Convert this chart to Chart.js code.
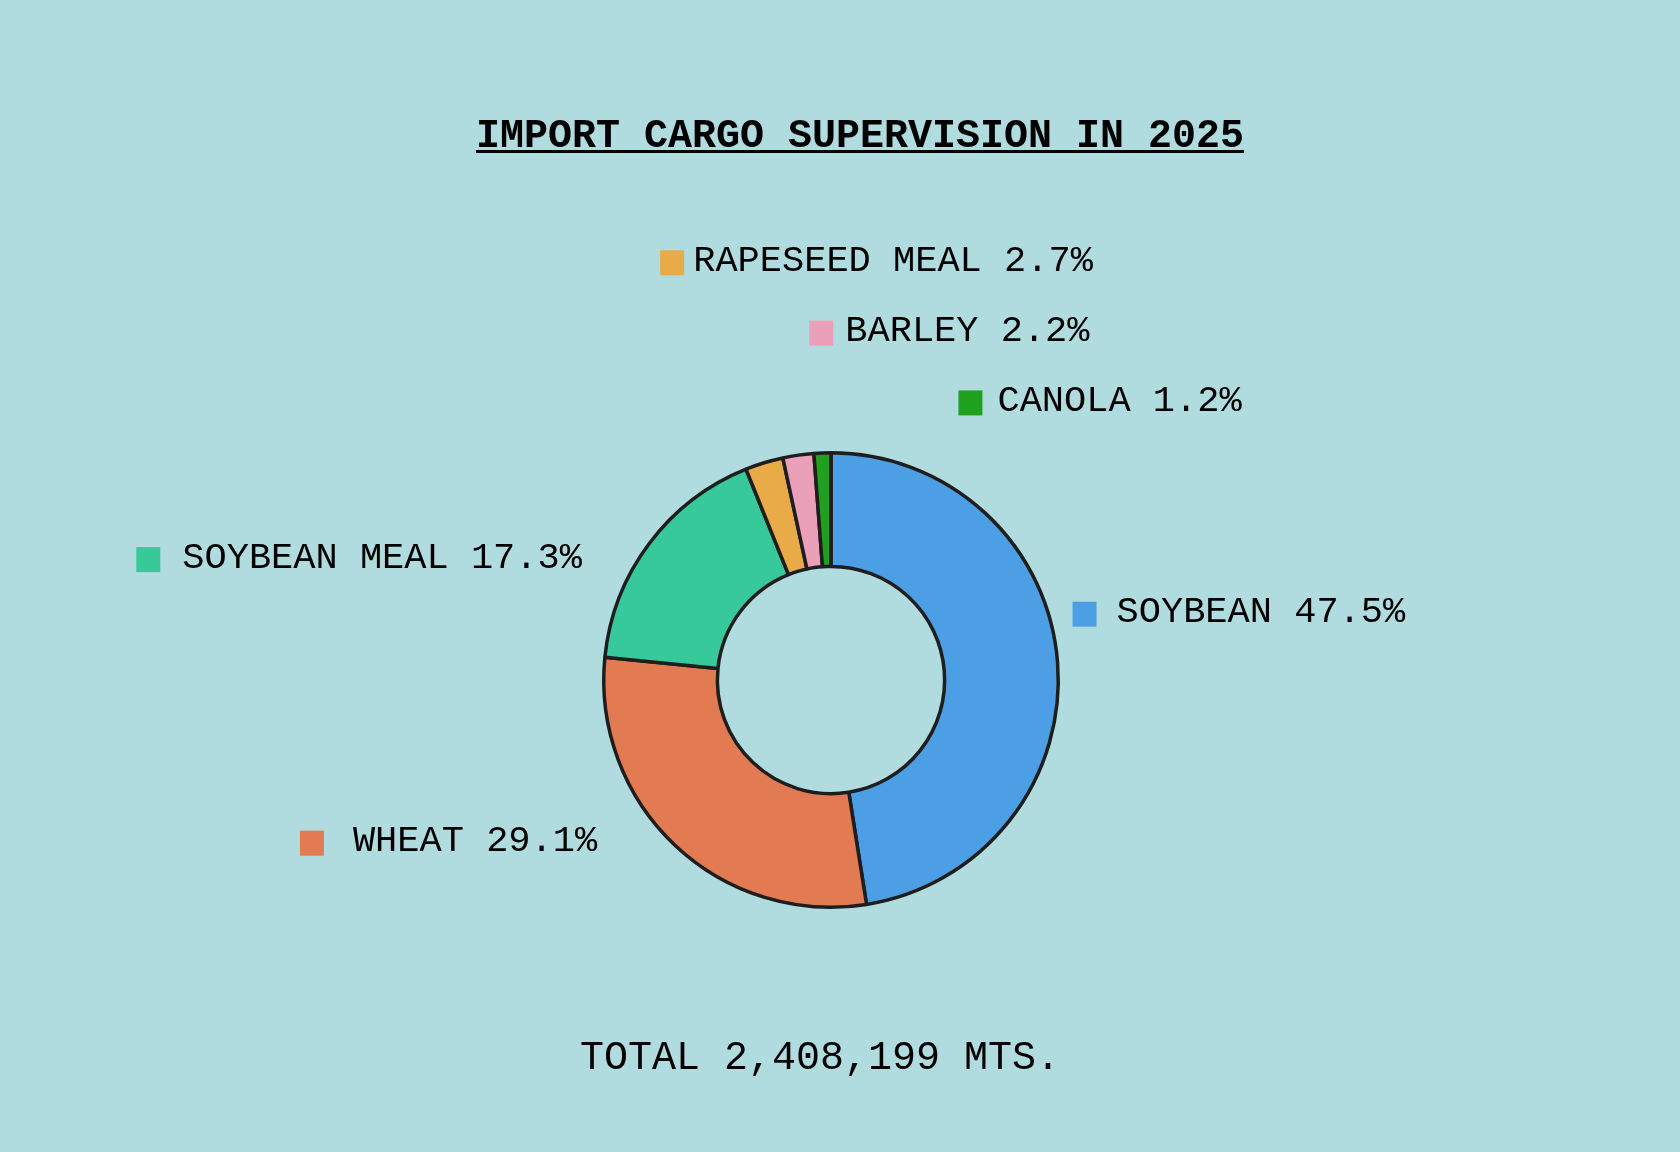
<!DOCTYPE html>
<html>
<head>
<meta charset="utf-8">
<title>Import cargo supervision 2025</title>
<script src="https://cdn.jsdelivr.net/npm/chart.js@4.4.1/dist/chart.umd.min.js"></script>
<style>
  html, body { margin: 0; padding: 0; background: #b0dcdf; }
  #wrap { width: 1680px; height: 1152px; }
</style>
</head>
<body>
<div id="wrap"><canvas id="graficoCarga"></canvas></div>
<script>
const categories = ["SOYBEAN", "WHEAT", "SOYBEAN MEAL", "RAPESEED MEAL", "BARLEY", "CANOLA"];
const shares = [47.5, 29.1, 17.3, 2.7, 2.2, 1.2];
const colors = ["#4c9fe5", "#e27a52", "#38c99a", "#e8ab48", "#eaa0b9", "#1fa01f"];
const titleText = "IMPORT CARGO SUPERVISION IN 2025";
const totalText = "TOTAL 2,408,199 MTS.";

// hand placement of each label box, relative to the outer mid point of its slice
const labelPlace = [
  { dx: 15, dy: -48, gap: 20 },
  { dx: -375, dy: -2, gap: 29 },
  { dx: -513, dy: 16, gap: 22 },
  { dx: -104, dy: -200, gap: 9 },
  { dx: 11, dy: -122, gap: 12 },
  { dx: 136, dy: -50, gap: 15 },
];

const MONO = '"Courier New", Courier, "Liberation Mono", monospace';

const textPlugin = {
  id: "textPlugin",
  afterDraw(chart) {
    const ctx = chart.ctx;
    ctx.save();
    ctx.fillStyle = "#000";
    ctx.textBaseline = "alphabetic";

    // title with underline
    ctx.font = "bold 40px " + MONO;
    ctx.textAlign = "center";
    ctx.fillText(titleText, 860, 147);
    const tw = ctx.measureText(titleText).width;
    ctx.fillRect(860 - tw / 2, 150, tw, 3);

    // total
    ctx.font = "40px " + MONO;
    ctx.fillText(totalText, 820, 1069);

    // slice labels
    ctx.font = "37px " + MONO;
    ctx.textAlign = "left";
    const arcs = chart.getDatasetMeta(0).data;
    arcs.forEach((arc, i) => {
      const p = arc.getProps(["x", "y", "startAngle", "endAngle", "outerRadius"], true);
      const mid = (p.startAngle + p.endAngle) / 2;
      const ax = p.x + Math.cos(mid) * p.outerRadius;
      const ay = p.y + Math.sin(mid) * p.outerRadius;
      const pl = labelPlace[i];
      const bx = ax + pl.dx;
      const cy = ay + pl.dy;
      ctx.fillStyle = colors[i];
      ctx.fillRect(bx, cy - 12.5, 24, 25);
      ctx.fillStyle = "#000";
      ctx.fillText(categories[i] + " " + shares[i].toFixed(1) + "%", bx + 24 + pl.gap, cy + 8);
    });
    ctx.restore();
  },
};

const ctxCarga = document.getElementById("graficoCarga").getContext("2d");
new Chart(ctxCarga, {
  type: "doughnut",
  data: {
    labels: categories,
    datasets: [
      {
        data: shares,
        backgroundColor: colors,
        borderColor: "#1e1e1e",
        borderWidth: 3.5,
        hoverOffset: 0,
        hoverBorderWidth: 3.5,
      },
    ],
  },
  options: {
    responsive: true,
    maintainAspectRatio: false,
    animation: false,
    cutout: "50%",
    layout: { padding: { top: 451, bottom: 243, left: 602, right: 620 } },
    plugins: {
      legend: { display: false },
      title: { display: false },
      tooltip: { enabled: false },
    },
  },
  plugins: [textPlugin],
});
</script>
</body>
</html>
